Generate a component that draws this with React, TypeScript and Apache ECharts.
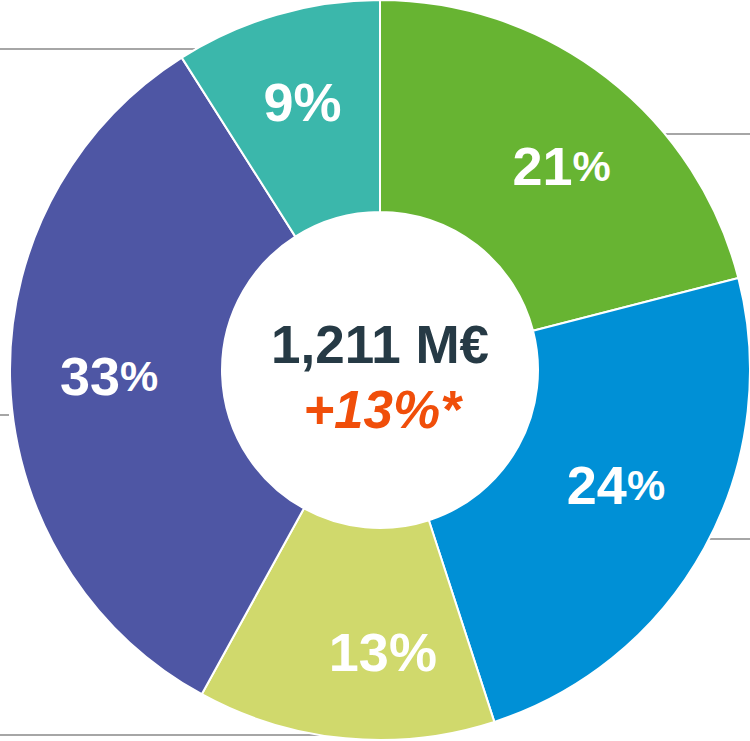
import React, { useEffect, useRef } from "react";
import * as echarts from "echarts";

const categories = ["Green", "Blue", "Lime", "Purple", "Teal"];
const values = [21, 24, 13, 33, 9];
const colors = ["#67b432", "#0090d6", "#d0d96c", "#4e56a4", "#3bb7ab"];
const smallPercent = [true, true, false, true, false];
const labelOffsets = [
  [18, 7],
  [2, -14],
  [28, 16],
  [-4, -2],
  [-3, -12],
];
const totalText = "1,211 M€";
const growthText = "+13%*";

const FONT = "'Liberation Sans', Arial, Helvetica, sans-serif";

export default function App() {
  const ref = useRef<HTMLDivElement>(null);
  useEffect(() => {
    document.body.style.margin = "0";
    if (!ref.current) return;
    const chart = echarts.init(ref.current, undefined, { renderer: "svg" });
    const lineStyle = { stroke: "#a6a6a6", lineWidth: 2 };
    chart.setOption({
      animation: false,
      backgroundColor: "#ffffff",
      series: [
        {
          type: "pie",
          center: [380, 370],
          radius: [158, 370],
          startAngle: 90,
          clockwise: true,
          avoidLabelOverlap: false,
          itemStyle: { borderColor: "#ffffff", borderWidth: 2 },
          label: {
            show: true,
            position: "inside",
            fontFamily: FONT,
            color: "#ffffff",
            rich: {
              num: { fontSize: 54, fontWeight: "bold", color: "#ffffff", fontFamily: FONT },
              pctS: { fontSize: 43, fontWeight: "bold", color: "#ffffff", fontFamily: FONT },
              pctL: { fontSize: 54, fontWeight: "bold", color: "#ffffff", fontFamily: FONT },
            },
          },
          labelLine: { show: false },
          emphasis: { disabled: true },
          data: categories.map((name, i) => ({
            name,
            value: values[i],
            itemStyle: { color: colors[i] },
            label: {
              offset: labelOffsets[i],
              formatter: () =>
                `{num|${values[i]}}{${smallPercent[i] ? "pctS" : "pctL"}|%}`,
            },
          })),
        },
      ],
      graphic: [
        { type: "line", shape: { x1: 0, y1: 49, x2: 195, y2: 49 }, style: lineStyle },
        { type: "line", shape: { x1: 653, y1: 134, x2: 750, y2: 134 }, style: lineStyle },
        { type: "line", shape: { x1: 699, y1: 539, x2: 750, y2: 539 }, style: lineStyle },
        { type: "line", shape: { x1: 0, y1: 735, x2: 338, y2: 735 }, style: lineStyle },
        { type: "line", shape: { x1: 0, y1: 415, x2: 9, y2: 415 }, style: lineStyle },
        {
          type: "text",
          x: 380,
          y: 344,
          style: {
            text: totalText,
            fontFamily: FONT,
            fontSize: 53,
            fontWeight: "bold",
            fill: "#263a45",
            align: "center",
            verticalAlign: "middle",
          },
        },
        {
          type: "text",
          x: 382,
          y: 409,
          style: {
            text: growthText,
            fontFamily: FONT,
            fontSize: 53,
            fontWeight: "bold",
            fontStyle: "italic",
            fill: "#f04e0a",
            align: "center",
            verticalAlign: "middle",
          },
        },
      ],
    });
    return () => chart.dispose();
  }, []);
  return <div ref={ref} style={{ width: 750, height: 741 }} />;
}
